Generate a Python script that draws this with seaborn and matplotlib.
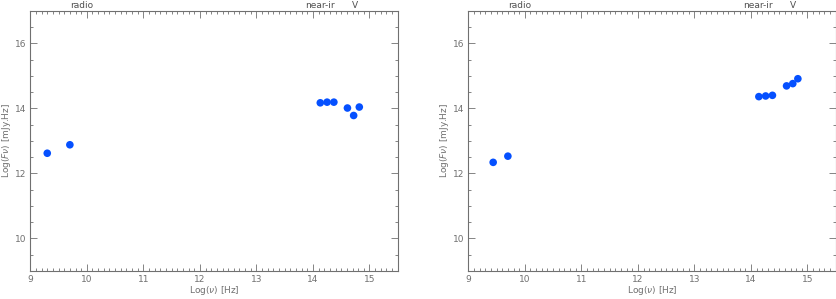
import matplotlib
matplotlib.use("Agg")
import matplotlib.pyplot as plt
import seaborn as sns
import pandas as pd
from matplotlib.ticker import MultipleLocator

# log(nu) [Hz] and log(F nu) [mJy.Hz] for the two panels
left_lognu = [9.30, 9.70, 14.13, 14.25, 14.37, 14.61, 14.72, 14.82]
left_logf = [12.62, 12.88, 14.17, 14.19, 14.19, 14.01, 13.78, 14.04]
right_lognu = [9.44, 9.70, 14.14, 14.26, 14.38, 14.63, 14.74, 14.83]
right_logf = [12.34, 12.53, 14.36, 14.38, 14.40, 14.69, 14.76, 14.91]

band_names = ["radio", "near-ir", "V"]
band_pos = [9.91, 14.13, 14.74]

sns.set_theme(style="ticks")
plt.rcParams['font.family'] = ['DejaVu Sans']

grey = "#707070"
fig = plt.figure(figsize=(8.37, 2.99), dpi=100)
ax1 = fig.add_axes([0.0362, 0.0936, 0.439, 0.8705])
ax2 = fig.add_axes([0.5595, 0.0936, 0.439, 0.8705])

for ax, xs, ys in [(ax1, left_lognu, left_logf), (ax2, right_lognu, right_logf)]:
    df = pd.DataFrame({"lognu": xs, "logf": ys})
    sns.scatterplot(data=df, x="lognu", y="logf", ax=ax, color="#0550ff",
                    s=30, edgecolor="none", legend=False)
    ax.set_xlim(9, 15.5)
    ax.set_ylim(9, 17)
    ax.xaxis.set_major_locator(MultipleLocator(1))
    ax.xaxis.set_minor_locator(MultipleLocator(0.1))
    ax.yaxis.set_major_locator(MultipleLocator(2))
    ax.yaxis.set_minor_locator(MultipleLocator(0.5))
    ax.tick_params(which="both", direction="in", top=True, right=True,
                   colors=grey, labelsize=6.5, width=0.6)
    ax.tick_params(which="major", length=5, pad=3)
    ax.tick_params(which="minor", length=2.5)
    ax.set_yticks([10, 12, 14, 16])
    for sp in ax.spines.values():
        sp.set_color(grey)
        sp.set_linewidth(0.8)
    ax.set_xlabel(r"Log($\nu$) [Hz]", fontsize=6.5, color=grey, labelpad=0)
    ax.set_ylabel(r"Log($F\nu$) [mJy.Hz]", fontsize=6.5, color=grey, labelpad=1)
    for name, pos in zip(band_names, band_pos):
        ax.text(pos, 1.004, name, transform=ax.get_xaxis_transform(),
                ha="center", va="bottom", fontsize=6.5, color="#505050")

fig.savefig("out.png", dpi=100)
